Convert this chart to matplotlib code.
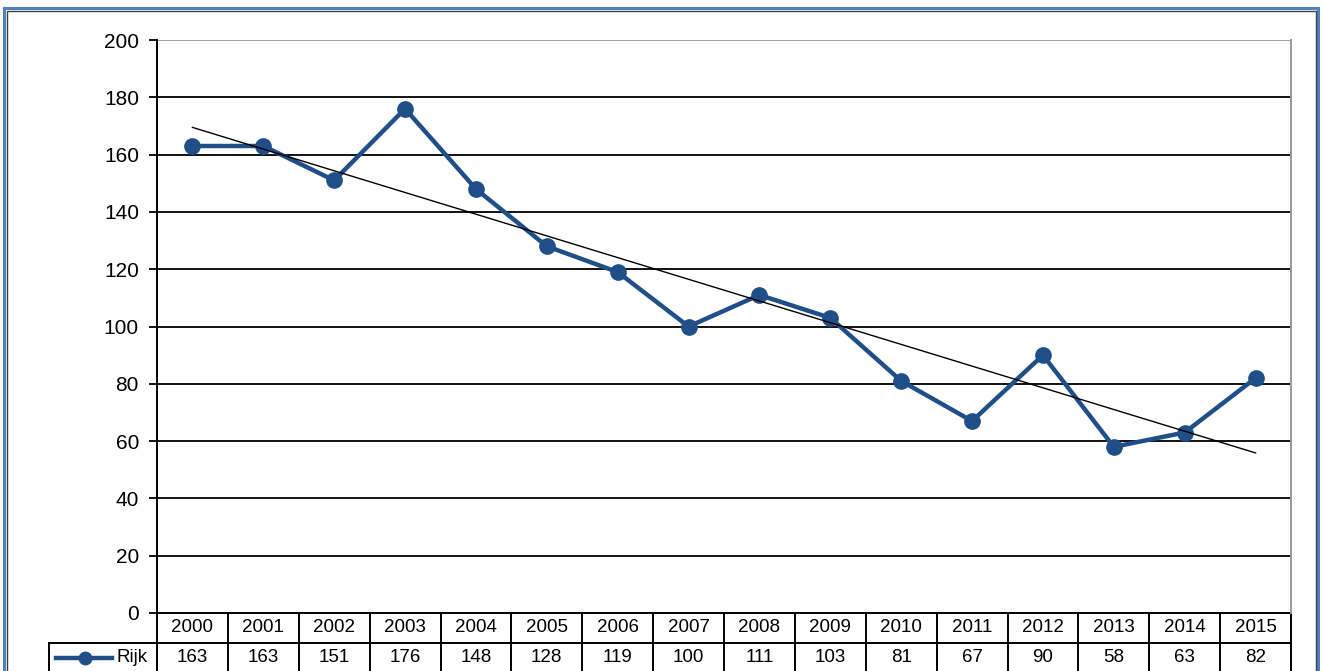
import numpy as np
import matplotlib
matplotlib.use("Agg")
import matplotlib.pyplot as plt
from matplotlib.patches import Rectangle

years = ["2000", "2001", "2002", "2003", "2004", "2005", "2006", "2007",
         "2008", "2009", "2010", "2011", "2012", "2013", "2014", "2015"]
values = [163, 163, 151, 176, 148, 128, 119, 100, 111, 103, 81, 67, 90, 58, 63, 82]
series_name = "Rijk"
yticks = [0, 20, 40, 60, 80, 100, 120, 140, 160, 180, 200]

plt.rcParams['font.family'] = ['Liberation Sans', 'DejaVu Sans']

W, H = 1323, 671
fig = plt.figure(figsize=(W / 100, H / 100), dpi=100)

L, R, T, B = 157, 1291, 40, 613
ax = fig.add_axes([L / W, 1 - B / H, (R - L) / W, (B - T) / H])

n = len(years)
x = np.arange(n)
line_color = "#1F4E89"

# gridlines
for yv in yticks[1:-1]:
    ax.axhline(yv, color="black", lw=1.3, zorder=1)
ax.axhline(yticks[-1], color="#9a9a9a", lw=1.3, zorder=1)

ax.plot(x, values, color=line_color, lw=3.2, marker="o", markersize=11,
        zorder=3, clip_on=False)

# linear trendline
coef = np.polyfit(x, values, 1)
ax.plot(x, np.polyval(coef, x), color="black", lw=1.0, zorder=4)

ax.set_xlim(-0.5, n - 0.5)
ax.set_ylim(0, 200)
ax.set_yticks(yticks)
ax.set_xticks([])
ax.tick_params(axis="y", length=6, width=1.3, direction="out", labelsize=15, pad=7,
               colors="black")
for s in ["top", "bottom"]:
    ax.spines[s].set_visible(False)
ax.spines["left"].set_linewidth(1.4)
ax.spines["right"].set_color("#9a9a9a")
ax.spines["right"].set_linewidth(1.4)

# data table below the axes
tr = ax.get_xaxis_transform()
rh = 30 / (B - T)
cw = (R - L) / n
label_left = -0.5 - (L - 49) / cw
kw = dict(transform=tr, clip_on=False, color="black", lw=1.4)
ax.plot([-0.5, n - 0.5], [0, 0], **kw)
ax.plot([label_left, n - 0.5], [-rh, -rh], **kw)
ax.plot([label_left, n - 0.5], [-2 * rh, -2 * rh], **kw)
for i in range(n + 1):
    ax.plot([i - 0.5, i - 0.5], [0, -2 * rh], **kw)
ax.plot([label_left, label_left], [-rh, -2 * rh], **kw)

for i, (yr, v) in enumerate(zip(years, values)):
    ax.text(i, -rh / 2, yr, transform=tr, ha="center", va="center", fontsize=13.5,
            clip_on=False)
    ax.text(i, -1.5 * rh, str(v), transform=tr, ha="center", va="center", fontsize=13.5,
            clip_on=False)

# legend key in label cell
def px2x(p):
    return (p - L) / cw - 0.5
ax.plot([px2x(56), px2x(112)], [-1.5 * rh, -1.5 * rh], color=line_color, lw=3.2,
        transform=tr, clip_on=False)
ax.plot([px2x(85)], [-1.5 * rh], marker="o", markersize=9, color=line_color,
        transform=tr, clip_on=False)
ax.text(px2x(117), -1.5 * rh, series_name, transform=tr, ha="left", va="center",
        fontsize=13.5, clip_on=False)

# outer frame
fig.patches.append(Rectangle((4 / W, -0.05), (W - 9) / W, 1 - 8 / H + 0.05,
                             transform=fig.transFigure, fill=False,
                             edgecolor="#4F81BD", lw=2.2))
fig.patches.append(Rectangle((6.5 / W, -0.05), (W - 14) / W, 1 - 10.5 / H + 0.05,
                             transform=fig.transFigure, fill=False,
                             edgecolor="#404040", lw=1.0))

fig.savefig("out.png", dpi=100)
